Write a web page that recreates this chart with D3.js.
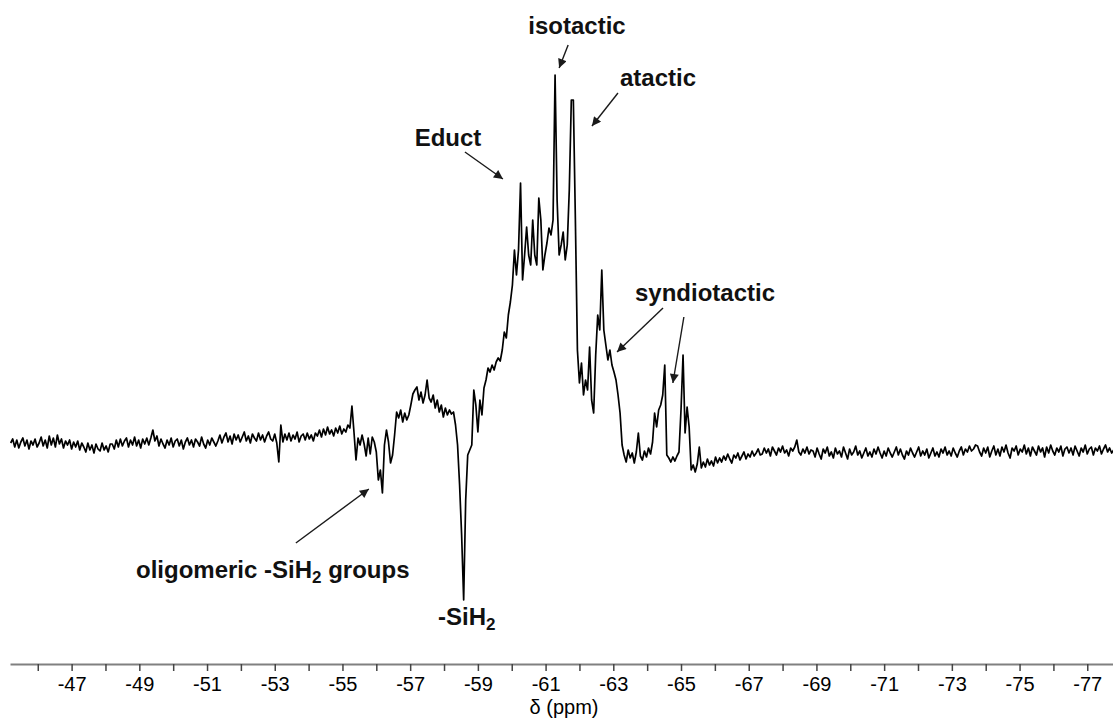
<!DOCTYPE html>
<html>
<head>
<meta charset="utf-8">
<script src="https://cdn.jsdelivr.net/npm/d3@7"></script>
<style>
  html, body { margin: 0; padding: 0; background: #fff; }
  svg { display: block; }
</style>
</head>
<body>
<svg id="chart" width="1113" height="720"></svg>
<script>
// 29Si NMR trace, sampled on an evenly spaced chemical-shift grid
const ppmStart = -45.2;
const ppmStep = -0.06;

// baseline on the low-field side (-45.2 ... -55.2 ppm)
const downfieldBaseline = [
  7,11,3,10,2,8,12,4,10,1,9,5,11,3,7,13,4,
  10,2,14,5,12,3,15,6,11,2,9,
  5,10,1,8,3,9,0,7,
  3,-2,7,0,5,-3,6,1,-1,7,0,4,-2,6,
  6,1,10,3,11,4,9,12,3,10,5,13,4,10,2,11,6,12,5,
  12,20,9,
  14,4,11,6,2,10,5,12,3,9,11,4,10,1,8,12,5,10,3,11,8,4,13,6,2,10,5,12,8,4,
  9,15,7,13,17,8,14,6,16,10,15,8,13,18,9,14,7,16,12,9,17,10,15,8,14,18,11,9,16,7,
  -12,25,
  8,16,10,17,9,15,11,18,8,14,16,10,17,11,15,9,17,
  14,20,13,21,15,23,16,20,14,22,17,24,16,21,18,25,22
];

// resonances: oligomers, -SiH2, educt, iso/atactic and syndiotactic signals
const resonanceRegion = [
  44,18,-10,12,5,15,6,-6,12,-4,13,8,-2,
  -30,-20,-43,5,20,8,-13,-5,15,
  38,32,40,28,37,30,35,45,56,60,63,50,58,47,55,70,
  52,48,55,42,50,38,45,33,42,35,40,36,38,25,5,
  -35,-85,-150,-50,-5,0,5,
  60,45,18,50,35,62,70,82,78,85,80,88,92,89,100,
  118,112,135,148,165,200,175,200,267,170,195,223,195,185,230,195,185,
  252,230,180,195,207,222,215,230,375,250,195,205,218,190,205,260,350,350,230,
  100,67,87,55,70,60,103,50,37,95,135,120,180,120,105,90,100,85,78,70,55,37,5,
  -5,-12,0,-8,-3,-13,-2,17,-6,-10,-1,-7,2,-4,8,
  37,23,40,45,55,85,-5,-8,-12,-7,-11,-6,-2,40,95,17,43,23,-20
];

// baseline on the high-field side (-65.4 ... -77.8 ppm)
const upfieldBaseline = [
  -15,-22,-14,3,-18,-12,-17,-9,-15,-11,-16,-7,-13,-8,
  -12,-6,-10,-4,-9,-13,-5,-8,-3,-10,-6,-2,-9,-4,-7,-1,-6,-3,1,-5,
  -4,2,-3,1,-6,3,-1,-5,2,-2,4,-3,0,-6,2,-1,3,10,-2,-5,1,-3,3,-4,0,
  -1,-7,2,-4,-9,1,-3,3,-6,-2,
  -8,2,-4,-1,-7,3,-3,-9,1,-5,
  -2,4,-5,-1,-8,-3,2,-6,-2,-7,
  1,-4,3,-3,-8,-1,-6,2,-3,-7,
  -2,3,-5,1,-5,-9,-1,-5,2,-3,
  -7,-2,3,-6,-1,-5,1,-8,-3,2,
  -6,-2,-7,1,-3,3,-5,-1,-6,2,
  -3,-7,-1,3,-5,1,-2,4,-1,1,5,
  4,-2,-6,2,-3,3,-7,-1,4,-5,
  1,-6,3,-2,5,-3,-8,2,-1,4,
  -5,1,-2,5,-4,2,-6,3,-1,-5,
  4,-2,2,-7,3,-3,5,-1,-5,2,
  -2,4,-6,1,3,-3,2,-5,4,-1,
  -6,2,-2,5,-4,1,3,-5,2,-1,
  4,-4,1,5,-2,2,-3,0
];

// axis ticks (ppm); only odd values carry a label
const tickValues = d3.range(-46, -78, -1);
const axisTitle = "\u03B4 (ppm)";

// peak assignments: label text and the (ppm, intensity) the arrow points at
const assignLabels = ["isotactic", "atactic", "Educt", "syndiotactic", "syndiotactic", "oligomeric"];
const assignPpm = [-61.40, -62.37, -59.74, -63.11, -64.76, -55.78];
const assignIntensity = [382, 324, 271, 98, 67, -39];

const signal = downfieldBaseline.concat(resonanceRegion, upfieldBaseline);
const points = signal.map((v, i) => [ppmStart + i * ppmStep, v]);

const svg = d3.select("#chart");
const font = "'Liberation Sans', Arial, Helvetica, sans-serif";

const x = d3.scaleLinear().domain([-45.18, -77.76]).range([10, 1113]);
const y = d3.scaleLinear().domain([-150, 375]).range([600, 75]);

// spectrum trace
svg.append("path")
  .datum(points)
  .attr("fill", "none")
  .attr("stroke", "#000")
  .attr("stroke-width", 1.7)
  .attr("stroke-linejoin", "round")
  .attr("d", d3.line().x(d => x(d[0])).y(d => y(d[1])));

// chemical-shift axis
const axis = svg.append("g")
  .attr("transform", "translate(0,664)")
  .call(d3.axisBottom(x)
    .tickValues(tickValues)
    .tickFormat(d => (Math.abs(d) % 2 === 1 ? String(d) : ""))
    .tickSize(7)
    .tickSizeOuter(0)
    .tickPadding(6));
axis.select(".domain").attr("stroke", "#808080").attr("stroke-width", 2);
axis.selectAll(".tick line").attr("stroke", "#444").attr("stroke-width", 1.5);
axis.selectAll(".tick text")
  .attr("font-family", font)
  .attr("font-size", 20)
  .attr("fill", "#000");

svg.append("text")
  .attr("x", 564)
  .attr("y", 714)
  .attr("text-anchor", "middle")
  .attr("font-family", font)
  .attr("font-size", 20)
  .attr("fill", "#000")
  .text(axisTitle);

// arrowheads
svg.append("defs").append("marker")
  .attr("id", "head")
  .attr("viewBox", "0 0 10 10")
  .attr("refX", 10)
  .attr("refY", 5)
  .attr("markerUnits", "userSpaceOnUse")
  .attr("markerWidth", 12)
  .attr("markerHeight", 9)
  .attr("orient", "auto")
  .append("path")
  .attr("d", "M0,0L10,5L0,10Z")
  .attr("fill", "#1a1a1a");

// arrow tails, offset in pixels from each tip
const tailDx = [9, 26, -38, 46, 11, -73];
const tailDy = [-23, -33, -27, -44, -66, 54];

assignPpm.forEach((p, i) => {
  const tx = x(p), ty = y(assignIntensity[i]);
  svg.append("line")
    .attr("x1", tx + tailDx[i]).attr("y1", ty + tailDy[i])
    .attr("x2", tx).attr("y2", ty)
    .attr("stroke", "#1a1a1a")
    .attr("stroke-width", 1.4)
    .attr("marker-end", "url(#head)");
});

function label(px, py, anchor) {
  return svg.append("text")
    .attr("x", px).attr("y", py)
    .attr("text-anchor", anchor)
    .attr("font-family", font)
    .attr("font-size", 24)
    .attr("font-weight", "bold")
    .attr("fill", "#111");
}

label(577, 34, "middle").text(assignLabels[0]);
label(658, 86, "middle").text(assignLabels[1]);
label(448, 146, "middle").text(assignLabels[2]);
label(705, 301, "middle").text(assignLabels[3]);

const olig = label(136, 578, "start");
olig.append("tspan").text(assignLabels[5] + " -SiH");
olig.append("tspan").attr("font-size", 17).attr("dy", 5).text("2");
olig.append("tspan").attr("dy", -5).text(" groups");

const sih2 = label(438, 625, "start");
sih2.append("tspan").text("-SiH");
sih2.append("tspan").attr("font-size", 17).attr("dy", 5).text("2");
</script>
</body>
</html>
